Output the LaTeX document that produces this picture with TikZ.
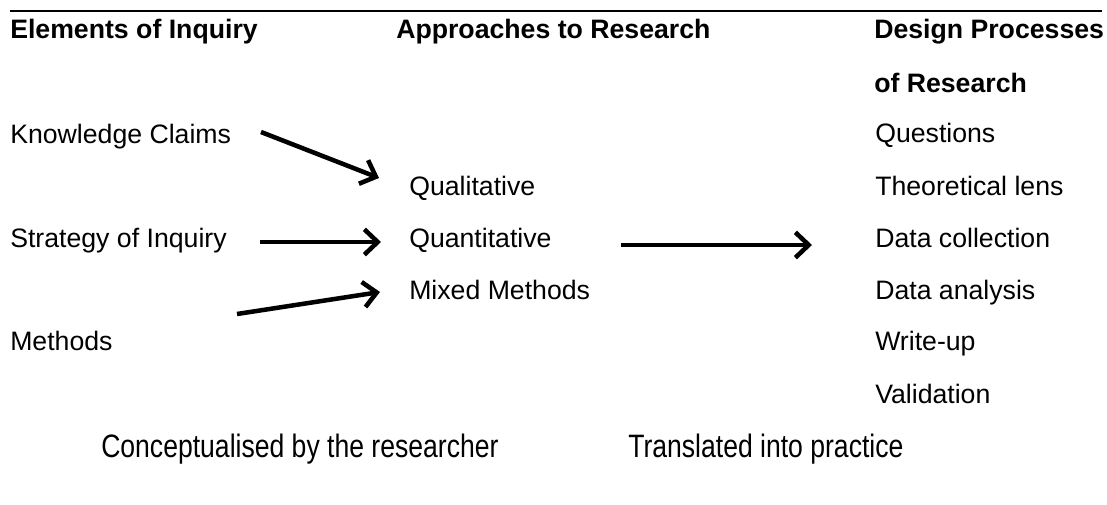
\documentclass[tikz,border=0pt]{standalone}
\usepackage{fontspec}
\setmainfont{Liberation Sans}
\newfontfamily\narrowsans[FakeStretch=0.82]{Liberation Sans}
\usetikzlibrary{arrows.meta}
\begin{document}
\begin{tikzpicture}[x=0.75pt,y=-0.75pt,
  txt/.style={anchor=base west,inner sep=0pt,font=\fontsize{20}{24}\selectfont},
  hdr/.style={txt,font=\fontsize{20}{24}\selectfont\bfseries},
  foot/.style={txt,font=\narrowsans\fontsize{24.3}{28}\selectfont},
  arr/.style={line width=3.4pt,-{Straight Barb[length=10pt,width=19pt,line width=3.4pt]}}]
\useasboundingbox (0,0) rectangle (1107,504);
\coordinate (L1) at (10,11);
\coordinate (L2) at (1102,11);
\draw[line width=1.1pt] (L1) -- (L2);
% headers
\node[hdr] (h1) at (10,38) {Elements of Inquiry};
\node[hdr] (h2) at (396,38) {Approaches to Research};
\node[hdr] (h3) at (874,38) {Design Processes};
\node[hdr] (h4) at (874,92) {of Research};
% left
\node[txt] (kc) at (10,143) {Knowledge Claims};
\node[txt] (si) at (10,247) {Strategy of Inquiry};
\node[txt] (me) at (10,350) {Methods};
% middle
\node[txt] (ql) at (409,195) {Qualitative};
\node[txt] (qn) at (409,247) {Quantitative};
\node[txt] (mm) at (409,299) {Mixed Methods};
% right
\node[txt] (r1) at (875,142) {Questions};
\node[txt] (r2) at (875,195) {Theoretical lens};
\node[txt] (r3) at (875,247) {Data collection};
\node[txt] (r4) at (875,299) {Data analysis};
\node[txt] (r5) at (875,350) {Write-up};
\node[txt] (r6) at (875,403) {Validation};
% bottom
\node[foot] (b1) at (101,457) {Conceptualised by the researcher};
\node[foot] (b2) at (628,457) {Translated into practice};
% arrow endpoints
\coordinate (a1s) at (261,132);
\coordinate (a1e) at (379,178);
\coordinate (a2s) at (260,242);
\coordinate (a2e) at (381,242);
\coordinate (a3s) at (237,314);
\coordinate (a3e) at (380,292);
\coordinate (a4s) at (621,245);
\coordinate (a4e) at (812,245);
\draw[arr] (a1s) -- (a1e);
\draw[arr] (a2s) -- (a2e);
\draw[arr] (a3s) -- (a3e);
\draw[arr] (a4s) -- (a4e);
\end{tikzpicture}
\end{document}
